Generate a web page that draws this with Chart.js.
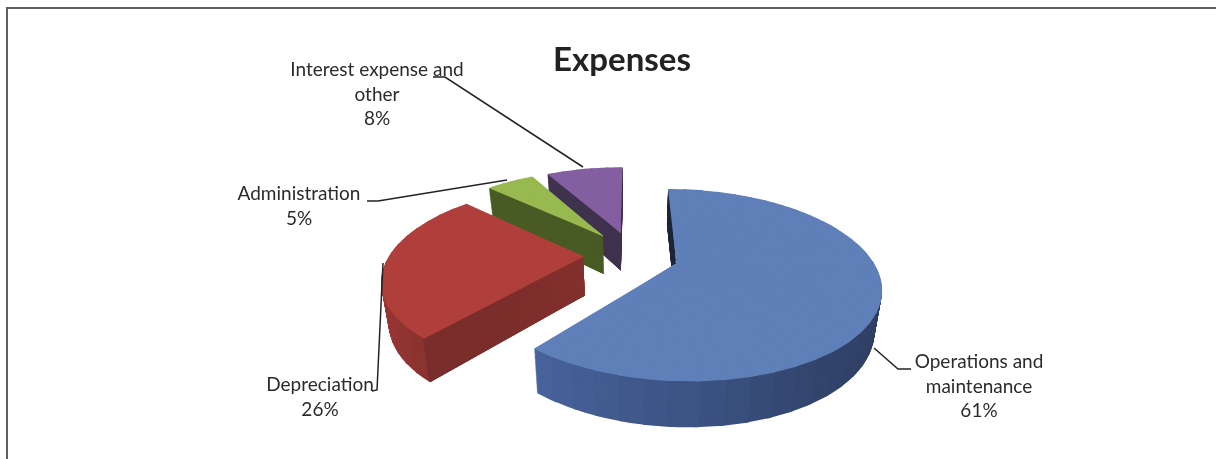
<!DOCTYPE html>
<html>
<head>
<meta charset="utf-8">
<title>Expenses</title>
<script src="https://cdn.jsdelivr.net/npm/chart.js@4"></script>
<style>
  html, body { margin: 0; padding: 0; background: #fff; overflow: hidden; }
  #pieChart { display: block; width: 1216px; height: 459px; filter: blur(0.4px); }
</style>
</head>
<body>
<canvas id="pieChart" width="1216" height="459"></canvas>
<script>
const chartTitle = 'Expenses';
const categories = ['Operations and maintenance', 'Depreciation', 'Administration', 'Interest expense and other'];
const values = [61, 26, 5, 8];

const topColors = ['#5f7fb8', '#b03f3b', '#97b950', '#835ea0'];
const wallColors = ['#1f2738', '#7a2e2b', '#4a5c26', '#40344f'];
const rimColors = [
  ['#2c3850', '#2d3a55', '#33466e', '#4a66a0'],
  ['#8c3431', '#a83c38', '#a83c38'],
  ['#4a5c26', '#4a5c26'],
  ['#40344f', '#40344f']
];

// label placement, one entry per category
const labelCenters = [[979, 362], [320, 385], [299, 194], [377, 70]];
const labelWidths = [150, 150, 150, 200];
const leaders = [
  [[874, 348], [898, 369], [911, 369]],
  [[383, 263], [377, 390], [372, 391]],
  [[507, 180], [378, 201], [367, 201]],
  [[583, 167], [445, 77], [433, 77]]
];

// fake 3D camera for the exploded pie
const view = { cx: 632, cy: 255, rx: 194, ry: 88, persp: 0.22, explode: 0.25, depth: 39, shrink: 0.03 };
const sliceNudge = [[-2, 1], [0, 0], [0, -2], [0, -2]];

function project(u, v, d, nudge) {
  const s = 1 / (1 - view.persp * v);
  return {
    x: view.cx + view.rx * u * s * (1 - view.shrink * d) + nudge[0],
    y: view.cy + view.ry * v * s + view.depth * Math.pow(s, 0.6) * d + nudge[1]
  };
}

function hexToRgb(h) {
  return [1, 3, 5].map(i => parseInt(h.substr(i, 2), 16));
}

function stopColor(stops, t) {
  const pos = Math.min(t, 0.9999) * (stops.length - 1);
  const i = Math.floor(pos);
  const a = hexToRgb(stops[i]), b = hexToRgb(stops[i + 1]);
  const c = a.map((n, k) => Math.round(n + (b[k] - n) * (pos - i)));
  return `rgb(${c[0]},${c[1]},${c[2]})`;
}

// draws the arc element through a small affine patch of the projected disc
function drawWedge(ctx, arc, idx, a0, a1, d, color) {
  const mid = (arc.startAngle + arc.endAngle) / 2;
  const ou = Math.cos(mid) * view.explode, ov = Math.sin(mid) * view.explode;
  const r = arc.outerRadius;
  const p = project(ou, ov, d, sliceNudge[idx]);
  const p0 = project(ou + Math.cos(a0), ov + Math.sin(a0), d, sliceNudge[idx]);
  const p1 = project(ou + Math.cos(a1), ov + Math.sin(a1), d, sliceNudge[idx]);
  const x0 = r * Math.cos(a0), y0 = r * Math.sin(a0);
  const x1 = r * Math.cos(a1), y1 = r * Math.sin(a1);
  const det = x0 * y1 - x1 * y0;
  const m11 = ((p0.x - p.x) * y1 - (p1.x - p.x) * y0) / det;
  const m12 = ((p1.x - p.x) * x0 - (p0.x - p.x) * x1) / det;
  const m21 = ((p0.y - p.y) * y1 - (p1.y - p.y) * y0) / det;
  const m22 = ((p1.y - p.y) * x0 - (p0.y - p.y) * x1) / det;

  ctx.save();
  ctx.transform(m11, m21, m12, m22, p.x - m11 * arc.x - m12 * arc.y, p.y - m21 * arc.x - m22 * arc.y);
  // clip point sits behind the apex so neighbouring wedges overlap all the way in
  const am = (a0 + a1) / 2, eps = 0.004;
  ctx.beginPath();
  ctx.moveTo(arc.x - 0.4 * r * Math.cos(am), arc.y - 0.4 * r * Math.sin(am));
  ctx.lineTo(arc.x + 1.5 * r * Math.cos(a0 - eps), arc.y + 1.5 * r * Math.sin(a0 - eps));
  ctx.lineTo(arc.x + 1.5 * r * Math.cos(a1 + eps), arc.y + 1.5 * r * Math.sin(a1 + eps));
  ctx.closePath();
  ctx.clip();
  const el = Object.create(arc);
  el.options = Object.assign({}, arc.options, { backgroundColor: color, borderWidth: 0 });
  el.draw(ctx);
  ctx.restore();
}

function splitAngles(arc) {
  const step = 6 * Math.PI / 180;
  const n = Math.max(2, Math.ceil((arc.endAngle - arc.startAngle) / step));
  const out = [];
  for (let i = 0; i < n; i++) {
    out.push({
      a0: arc.startAngle + (arc.endAngle - arc.startAngle) * i / n,
      a1: arc.startAngle + (arc.endAngle - arc.startAngle) * (i + 1) / n,
      t: i / n
    });
  }
  return out;
}

const pie3d = {
  id: 'pie3d',
  beforeDatasetsDraw(chart) {
    const ctx = chart.ctx;
    const arcs = chart.getDatasetMeta(0).data;
    const layers = 50;
    [3, 2, 1, 0].forEach(i => {
      const arc = arcs[i];
      const parts = splitAngles(arc);
      // side of the slice, back to front
      const sides = parts.slice().sort((p, q) => Math.sin((p.a0 + p.a1) / 2) - Math.sin((q.a0 + q.a1) / 2));
      sides.forEach(p => {
        const color = stopColor(rimColors[i], p.t);
        for (let l = layers; l >= 1; l--) {
          drawWedge(ctx, arc, i, p.a0, p.a1, l / layers, color);
        }
      });
      // cut face
      const wallEnd = arc.startAngle + 0.006;
      for (let l = layers; l >= 1; l--) {
        drawWedge(ctx, arc, i, arc.startAngle, wallEnd, l / layers, wallColors[i]);
      }
      parts.forEach(p => drawWedge(ctx, arc, i, p.a0, p.a1, 0, topColors[i]));
    });
    return false;
  },
  afterDraw(chart) {
    const ctx = chart.ctx;
    ctx.save();
    // page frame, only top and left show in the scan
    ctx.strokeStyle = '#5f5f5f';
    ctx.lineWidth = 2;
    ctx.beginPath();
    ctx.moveTo(7, 459);
    ctx.lineTo(7, 8);
    ctx.lineTo(1216, 8);
    ctx.stroke();
    // leader lines
    ctx.strokeStyle = '#222';
    ctx.lineWidth = 1.5;
    leaders.forEach(pts => {
      ctx.beginPath();
      pts.forEach((p, k) => k ? ctx.lineTo(p[0], p[1]) : ctx.moveTo(p[0], p[1]));
      ctx.stroke();
    });
    // data labels
    ctx.fillStyle = '#2b2b2b';
    ctx.font = '19px Lato';
    ctx.textAlign = 'center';
    ctx.textBaseline = 'middle';
    categories.forEach((name, i) => {
      const lines = [];
      let cur = '';
      name.split(' ').forEach(word => {
        const next = cur ? cur + ' ' + word : word;
        if (ctx.measureText(next).width > labelWidths[i] && cur) {
          lines.push(cur);
          cur = word;
        } else {
          cur = next;
        }
      });
      lines.push(cur);
      lines.push(values[i] + '%');
      lines.forEach((t, k) => ctx.fillText(t, labelCenters[i][0], labelCenters[i][1] + k * 24.5));
    });
    ctx.restore();
  }
};

new Chart(document.getElementById('pieChart').getContext('2d'), {
  type: 'pie',
  data: {
    labels: categories,
    datasets: [{ data: values, backgroundColor: topColors, borderWidth: 0 }]
  },
  options: {
    responsive: false,
    animation: false,
    layout: { padding: { left: 28 } },
    plugins: {
      legend: { display: false },
      tooltip: { enabled: false },
      title: {
        display: true,
        text: chartTitle,
        color: '#222',
        font: { family: 'Lato', size: 33, weight: 'bold' },
        padding: { top: 41, bottom: 10 }
      }
    }
  },
  plugins: [pie3d]
});
</script>
</body>
</html>
